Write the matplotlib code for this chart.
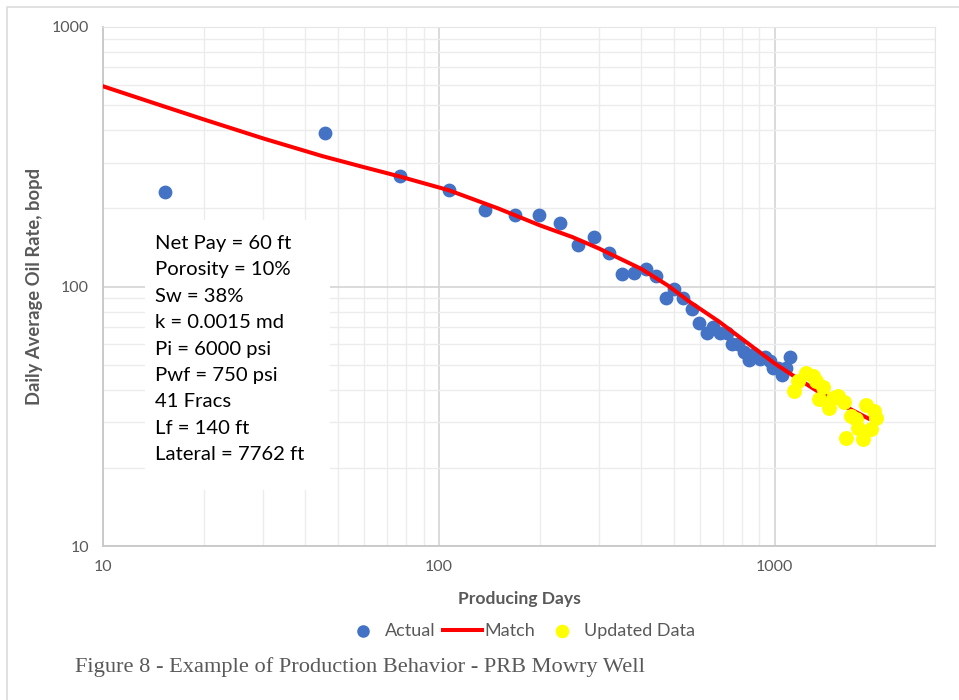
import numpy as np
import matplotlib.pyplot as plt
from matplotlib.patches import Rectangle
from matplotlib.ticker import LogLocator, NullFormatter, FixedFormatter, FixedLocator

# actual production (days, bopd)
actual_days = [15.3, 45.8, 76.6, 107, 137, 168, 198, 229, 259, 289, 321, 351, 380, 413, 442,
               474, 500, 532, 566, 594, 628, 654, 686, 720, 745, 776, 809, 837, 867, 902,
               933, 966, 986, 1021, 1049, 1078, 1109]
actual_rate = [232, 390, 266, 235, 198, 188, 188, 175, 144, 155, 135, 112, 113, 117, 110,
               90, 98, 90, 82, 72.6, 66.4, 70, 65.9, 66.4, 60.2, 60.2, 56, 52.2, 55.1, 52.7,
               53.7, 51.8, 48.6, 48.6, 45.7, 48.6, 53.7]

# newer data
upd_days = [1139, 1170, 1236, 1297, 1325, 1390, 1352, 1448, 1488, 1540, 1605, 1683, 1742,
            1766, 1627, 1827, 1866, 1932, 1973, 2001]
upd_rate = [39.4, 43.4, 46.5, 45.3, 43.4, 41.1, 37.0, 34.1, 37.3, 37.9, 35.9, 31.8, 30.9,
            28.6, 26.1, 25.9, 35.0, 28.3, 33.2, 31.2]

# model match
match_days = [10, 15, 20, 30, 45, 60, 76, 107, 150, 200, 250, 300, 400, 480, 560, 680, 790,
              1000, 1160, 1340, 1600, 1900]
match_rate = [591, 497, 440, 372, 318, 288, 266, 235, 200, 172, 155, 140, 117, 101, 87, 73.5,
              63.5, 50.5, 44.5, 39.5, 34.8, 31]

params = ['Net Pay = 60 ft', 'Porosity = 10%', 'Sw = 38%', 'k = 0.0015 md', 'Pi = 6000 psi',
          'Pwf = 750 psi', '41 Fracs', 'Lf = 140 ft', 'Lateral = 7762 ft']

txt = '#595959'
plt.rcParams['font.family'] = ['Lato', 'DejaVu Sans']

fig = plt.figure(figsize=(9.59, 7), dpi=100)
ax = fig.add_axes([103/959, 1-546/700, (935-103)/959, (546-27)/700])

ax.set_xscale('log')
ax.set_yscale('log')
ax.set_xlim(10, 3000)
ax.set_ylim(10, 1000)

ax.xaxis.set_major_locator(FixedLocator([10, 100, 1000]))
ax.xaxis.set_major_formatter(FixedFormatter(['10', '100', '1000']))
ax.yaxis.set_major_locator(FixedLocator([10, 100, 1000]))
ax.yaxis.set_major_formatter(FixedFormatter(['10', '100', '1000']))
ax.xaxis.set_minor_locator(LogLocator(base=10, subs=np.arange(2, 10), numticks=20))
ax.yaxis.set_minor_locator(LogLocator(base=10, subs=np.arange(2, 10), numticks=20))
ax.xaxis.set_minor_formatter(NullFormatter())
ax.yaxis.set_minor_formatter(NullFormatter())

ax.grid(which='major', color='#d4d4d4', lw=1.2)
ax.grid(which='minor', color='#ececec', lw=1.0)
ax.set_axisbelow(True)
ax.tick_params(which='both', length=0, labelsize=11.5, labelcolor=txt, pad=10)

for s in ['top', 'right']:
    ax.spines[s].set_color('#e6e6e6')
for s in ['left', 'bottom']:
    ax.spines[s].set_color('#c8c8c8')
    ax.spines[s].set_linewidth(1.3)

ax.scatter(actual_days, actual_rate, s=80, color='#4472C4', zorder=3, label='Actual')
ax.plot(match_days, match_rate, color='#FF0000', lw=2.9, zorder=4, label='Match')
ax.scatter(upd_days, upd_rate, s=95, color='#FFFF00', zorder=5, label='Updated Data')

ax.set_xlabel('Producing Days', fontsize=12.6, fontweight='bold', color=txt, labelpad=12)
ax.set_ylabel('Daily Average Oil Rate, bopd', fontsize=13.2, fontweight='bold', color=txt, labelpad=6)

# parameter box (white background hides the grid)
ax.add_patch(Rectangle((145, 700-490), 185, 270, transform=None, facecolor='white',
                       edgecolor='none', zorder=2))
ax.text((155-103)/832, (546-235)/519, '\n'.join(params), transform=ax.transAxes,
        fontsize=14.6, va='top', ha='left', color='black', linespacing=1.67, zorder=6)

fig.legend(loc='center', bbox_to_anchor=(519/959, 1-631/700), ncol=3, frameon=False,
           fontsize=13, labelcolor=txt, handlelength=2.2, handletextpad=0.1,
           columnspacing=0.4, markerscale=0.9)

fig.text(75/959, 1-667/700, 'Figure 8 - Example of Production Behavior - PRB Mowry Well',
         family='Liberation Serif', fontsize=16.1, color=txt, va='center', ha='left')

fig.patches.append(Rectangle((7/959, -0.1), 1.2, 1-7/700+0.1, transform=fig.transFigure,
                             facecolor='none', edgecolor='#dcdcdc', lw=1.2))

fig.savefig('out.png', dpi=100)
